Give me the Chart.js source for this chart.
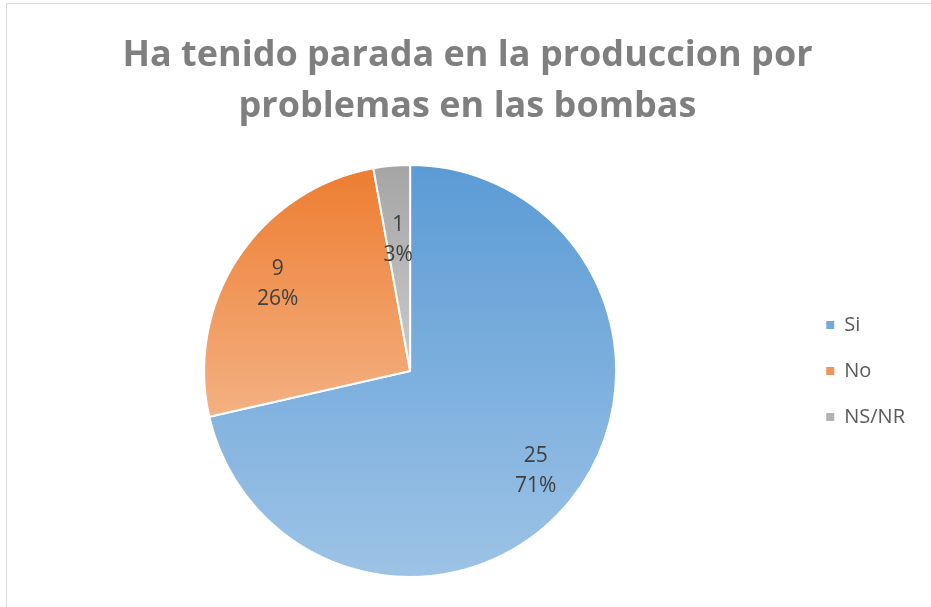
<!DOCTYPE html>
<html>
<head>
<meta charset="utf-8">
<script src="https://cdn.jsdelivr.net/npm/chart.js@4/dist/chart.umd.min.js"></script>
<style>
  html, body { margin: 0; padding: 0; background: #ffffff; }
  #wrap { position: relative; width: 931px; height: 607px; overflow: hidden; }
  #frame { position: absolute; left: 6px; top: 3px; width: 1000px; height: 700px; border: 1px solid #d9d9d9; box-sizing: border-box; pointer-events: none; }
  canvas { position: absolute; left: 0; top: 0; }
</style>
</head>
<body>
<div id="wrap">
  <canvas id="c" width="931" height="607"></canvas>
  <div id="frame"></div>
</div>
<script>
// ---- data ----
const titleLines = ['Ha tenido parada en la produccion por', 'problemas en las bombas'];
const categories = ['Si', 'No', 'NS/NR'];
const counts = [25, 9, 1];
const percents = ['71%', '26%', '3%'];

// ---- styles ----
const gradTop = ['#5b9bd5', '#ed7d31', '#a5a5a5'];
const gradBottom = ['#9dc3e6', '#f4b183', '#cbcbcb'];
const legendColors = ['#74aadc', '#f09457', '#b3b3b3'];
const labelRadiusFrac = [0.78, 0.77, 0.64];

const gradientPlugin = {
  id: 'sliceGradient',
  beforeDatasetsDraw(chart) {
    const ctx = chart.ctx;
    const meta = chart.getDatasetMeta(0);
    meta.data.forEach((arc, i) => {
      const {x, y, startAngle, endAngle, outerRadius} = arc.getProps(['x','y','startAngle','endAngle','outerRadius'], true);
      let ys = [y, y + outerRadius * Math.sin(startAngle), y + outerRadius * Math.sin(endAngle)];
      for (let k = -2; k <= 2; k++) {
        const a = Math.PI / 2 + k * Math.PI;
        if (a > startAngle && a < endAngle) ys.push(y + outerRadius * Math.sin(a));
      }
      const y0 = Math.min(...ys), y1 = Math.max(...ys);
      const g = ctx.createLinearGradient(0, y0, 0, y1);
      g.addColorStop(0, gradTop[i]);
      g.addColorStop(1, gradBottom[i]);
      arc.options.backgroundColor = g;
    });
  }
};

const labelPlugin = {
  id: 'sliceLabels',
  afterDatasetsDraw(chart) {
    const ctx = chart.ctx;
    const meta = chart.getDatasetMeta(0);
    ctx.save();
    ctx.font = '21px "Open Sans"';
    ctx.fillStyle = '#404040';
    ctx.textAlign = 'center';
    ctx.textBaseline = 'middle';
    meta.data.forEach((arc, i) => {
      const {x, y, startAngle, endAngle, outerRadius} = arc.getProps(['x','y','startAngle','endAngle','outerRadius'], true);
      const mid = (startAngle + endAngle) / 2;
      const r = outerRadius * labelRadiusFrac[i];
      const cx = x + r * Math.cos(mid);
      const cy = y + r * Math.sin(mid);
      ctx.fillText(String(counts[i]), cx, cy - 15);
      ctx.fillText(percents[i], cx, cy + 15);
    });
    ctx.restore();
  }
};

new Chart(document.getElementById('c'), {
  type: 'pie',
  data: {
    labels: categories,
    datasets: [{
      data: counts,
      backgroundColor: gradTop,
      borderColor: '#ffffff',
      borderWidth: 2
    }]
  },
  options: {
    responsive: false,
    animation: false,
    events: [],
    layout: { padding: { left: 20, right: 16, top: 0, bottom: 29 } },
    plugins: {
      title: {
        display: true,
        text: titleLines,
        color: '#7f7f7f',
        font: { family: '"Open Sans"', size: 36, weight: 'bold', lineHeight: 51/36 },
        padding: { top: 30, bottom: 32 }
      },
      legend: {
        position: 'right',
        fullSize: false,
        labels: {
          boxWidth: 8,
          boxHeight: 8,
          padding: 26,
          color: '#595959',
          font: { family: '"Open Sans"', size: 20 },
          generateLabels(chart) {
            return categories.map((c, i) => ({
              text: c,
              fillStyle: legendColors[i],
              strokeStyle: legendColors[i],
              lineWidth: 0,
              hidden: false,
              index: i,
              fontColor: '#595959'
            }));
          }
        }
      },
      tooltip: { enabled: false }
    }
  },
  plugins: [gradientPlugin, labelPlugin]
});
</script>
</body>
</html>
